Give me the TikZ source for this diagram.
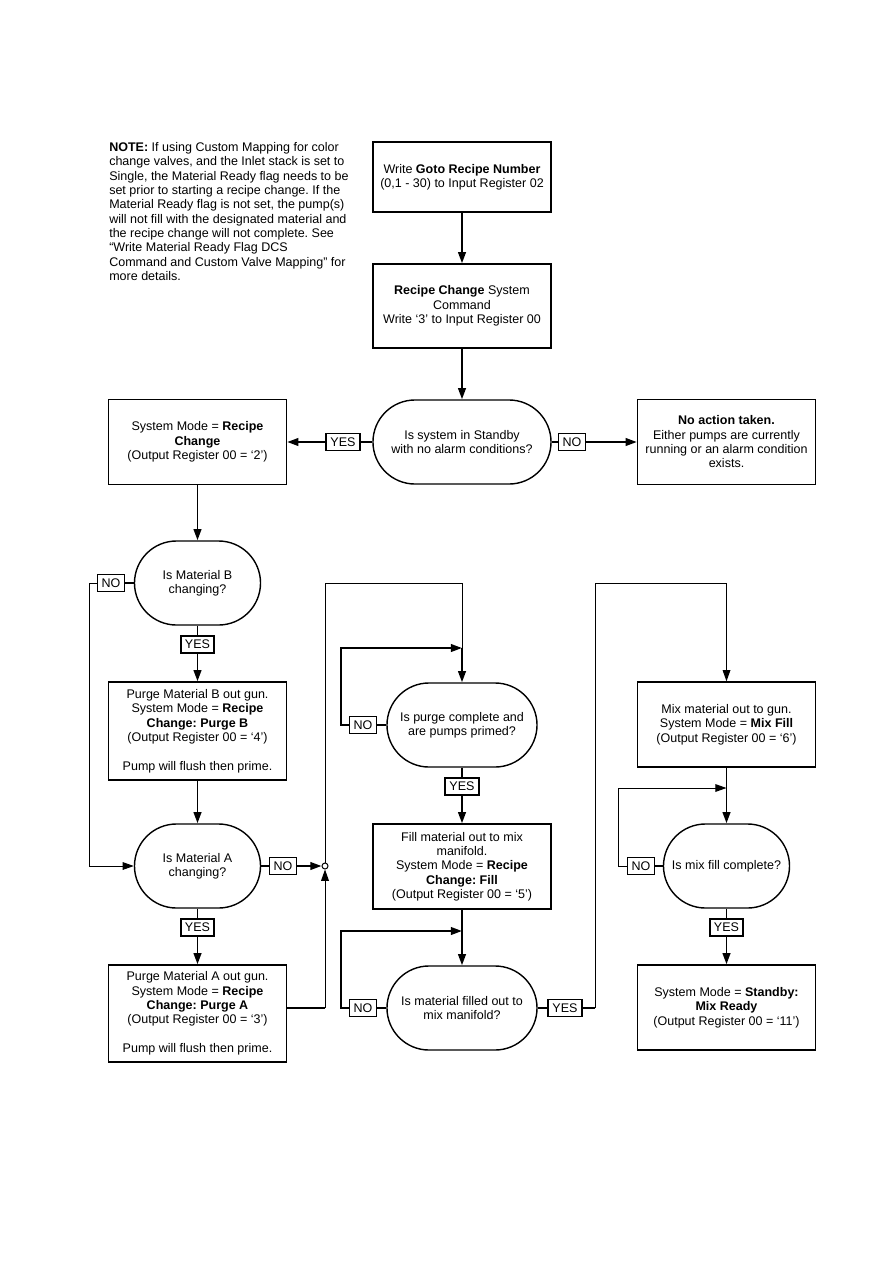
\documentclass[tikz,border=0pt]{standalone}
\usepackage{fontspec}
\setmainfont{Liberation Sans}
\usetikzlibrary{arrows.meta}
\frenchspacing
\newcommand{\flowfont}{\fontsize{8.9}{10.2}\selectfont}
\tikzset{
  box/.style={draw, line width=1pt, minimum width=4.45cm, minimum height=2.125cm, align=center, font=\flowfont, inner sep=2pt},
  decision/.style={draw, line width=1pt, rounded corners=1.05cm, minimum width=3.15cm, minimum height=2.1cm, align=center, font=\flowfont, inner sep=0pt},
  tag/.style={draw, line width=1.2pt, minimum height=0.425cm, inner xsep=3pt, inner ysep=0pt, font=\flowfont},
  link/.style={line width=1.4pt},
  thinlink/.style={line width=0.7pt},
  flow/.style={line width=1.4pt, -{Triangle[length=8pt,width=5.5pt]}},
  thinflow/.style={line width=0.7pt, -{Triangle[length=8pt,width=5.5pt]}}
}

\begin{document}
\begin{tikzpicture}[x=0.025cm, y=-0.025cm]
\useasboundingbox (0,0) rectangle (893,1263);

% Note
\node[anchor=north west, align=left, inner sep=0pt, font=\flowfont] (note) at (109,142)
  {\textbf{NOTE:} If using Custom Mapping for color\\
   change valves, and the Inlet stack is set to\\
   Single, the Material Ready flag needs to be\\
   set prior to starting a recipe change. If the\\
   Material Ready flag is not set, the pump(s)\\
   will not fill with the designated material and\\
   the recipe change will not complete. See\\
   “Write Material Ready Flag DCS\\
   Command and Custom Valve Mapping” for\\
   more details.};

% Start of recipe change
\node[box, minimum height=1.75cm] (goto) at (462,177)
  {Write \textbf{Goto Recipe Number}\\(0,1 - 30) to Input Register 02};
\node[box, minimum height=2.1cm] (recipe) at (462,306)
  {\textbf{Recipe Change} System\\Command\\Write ‘3’ to Input Register 00};
\node[decision, minimum width=4.45cm] (standby) at (462,442)
  {Is system in Standby\\with no alarm conditions?};
\node[box] (modechg) at (197.5,442)
  {System Mode = \textbf{Recipe}\\\textbf{Change}\\(Output Register 00 = ‘2’)};
\node[box] (noaction) at (726.5,442)
  {\textbf{No action taken.}\\Either pumps are currently\\running or an alarm condition\\exists.};
\node[tag] (yes0) at (343,442) {YES};
\node[tag] (no0) at (572,442) {NO};

% Left column: purge B and A
\node[decision] (decB) at (197.5,583) {Is Material B\\changing?};
\node[tag] (noB) at (111,583) {NO};
\node[tag] (yesB) at (197.5,644.5) {YES};
\node[box, minimum height=2.45cm] (purgeB) at (197.5,731)
  {Purge Material B out gun.\\System Mode = \textbf{Recipe}\\\textbf{Change: Purge B}\\(Output Register 00 = ‘4’)\\[10.2pt]Pump will flush then prime.};
\node[decision] (decA) at (197.5,866) {Is Material A\\changing?};
\node[tag] (noA) at (283,866) {NO};
\node[tag] (yesA) at (197.5,927.5) {YES};
\node[box, minimum height=2.425cm] (purgeA) at (197.5,1013.5)
  {Purge Material A out gun.\\System Mode = \textbf{Recipe}\\\textbf{Change: Purge A}\\(Output Register 00 = ‘3’)\\[10.2pt]Pump will flush then prime.};
\node[circle, draw, thinlink, inner sep=0pt, minimum size=0.15cm] (junc) at (325,866) {};

% Middle column: fill
\node[decision, minimum width=3.75cm] (purged) at (462,725) {Is purge complete and\\are pumps primed?};
\node[tag] (noP) at (363,725) {NO};
\node[tag] (yesP) at (462,786.5) {YES};
\node[box] (fill) at (462,866.5)
  {Fill material out to mix\\manifold.\\System Mode = \textbf{Recipe}\\\textbf{Change: Fill}\\(Output Register 00 = ‘5’)};
\node[decision, minimum width=3.75cm] (filled) at (462,1008) {Is material filled out to\\mix manifold?};
\node[tag] (noF) at (363,1008) {NO};
\node[tag] (yesF) at (565,1008) {YES};

% Right column: mix
\node[box] (mix) at (726.5,724.5)
  {Mix material out to gun.\\System Mode = \textbf{Mix Fill}\\(Output Register 00 = ‘6’)};
\node[decision] (mixed) at (726.5,866) {Is mix fill complete?};
\node[tag] (noM) at (641,866) {NO};
\node[tag] (yesM) at (726.5,927.5) {YES};
\node[box] (ready) at (726.5,1007.5)
  {System Mode = \textbf{Standby:}\\\textbf{Mix Ready}\\(Output Register 00 = ‘11’)};

% Corners of the connectors
\coordinate (bl) at (89,583);
\coordinate (pa) at (325,1008);
\coordinate (t1) at (462,583);
\coordinate (m1) at (462,648);
\coordinate (lp1) at (341,648);
\coordinate (m2) at (462,931);
\coordinate (lp2) at (341,931);
\coordinate (fa) at (595,1008);
\coordinate (t2) at (726.5,583);
\coordinate (m3) at (726.5,788);
\coordinate (lp3) at (618,788);

% Connectors
\draw[flow] (goto) -- (recipe);
\draw[flow] (recipe) -- (standby);
\draw[link] (standby.west) -- (yes0.east);
\draw[flow] (yes0.west) -- (modechg.east);
\draw[link] (standby.east) -- (no0.west);
\draw[flow] (no0.east) -- (noaction.west);
\draw[flow] (modechg) -- (decB);

\draw[link] (decB.west) -- (noB.east);
\draw[thinflow] (noB.west) -- (bl) |- (decA.west);
\draw[link] (decB.south) -- (yesB.north);
\draw[flow] (yesB.south) -- (purgeB.north);
\draw[flow] (purgeB) -- (decA);
\draw[link] (decA.east) -- (noA.west);
\draw[flow] (noA.east) -- (junc.west);
\draw[link] (decA.south) -- (yesA.north);
\draw[flow] (yesA.south) -- (purgeA.north);
\draw[link] (purgeA.east |- pa) -- (pa);
\draw[thinflow] (pa) -- (junc.south);
\draw[thinlink] (junc.north) |- (t1) -- (m1);

\draw[flow] (m1) -- (purged.north);
\draw[link] (purged.west) -- (noP.east);
\draw[flow] (noP.west) -| (lp1) -- (m1);
\draw[link] (purged.south) -- (yesP.north);
\draw[flow] (yesP.south) -- (fill.north);
\draw[flow] (fill) -- (filled);
\draw[link] (filled.west) -- (noF.east);
\draw[flow] (noF.west) -| (lp2) -- (m2);
\draw[link] (filled.east) -- (yesF.west);
\draw[link] (yesF.east) -- (fa);
\draw[thinflow] (fa) |- (t2) -- (mix.north);

\draw[flow] (mix) -- (mixed);
\draw[link] (mixed.west) -- (noM.east);
\draw[thinflow] (noM.west) -| (lp3) -- (m3);
\draw[link] (mixed.south) -- (yesM.north);
\draw[flow] (yesM.south) -- (ready.north);
\end{tikzpicture}
\end{document}
